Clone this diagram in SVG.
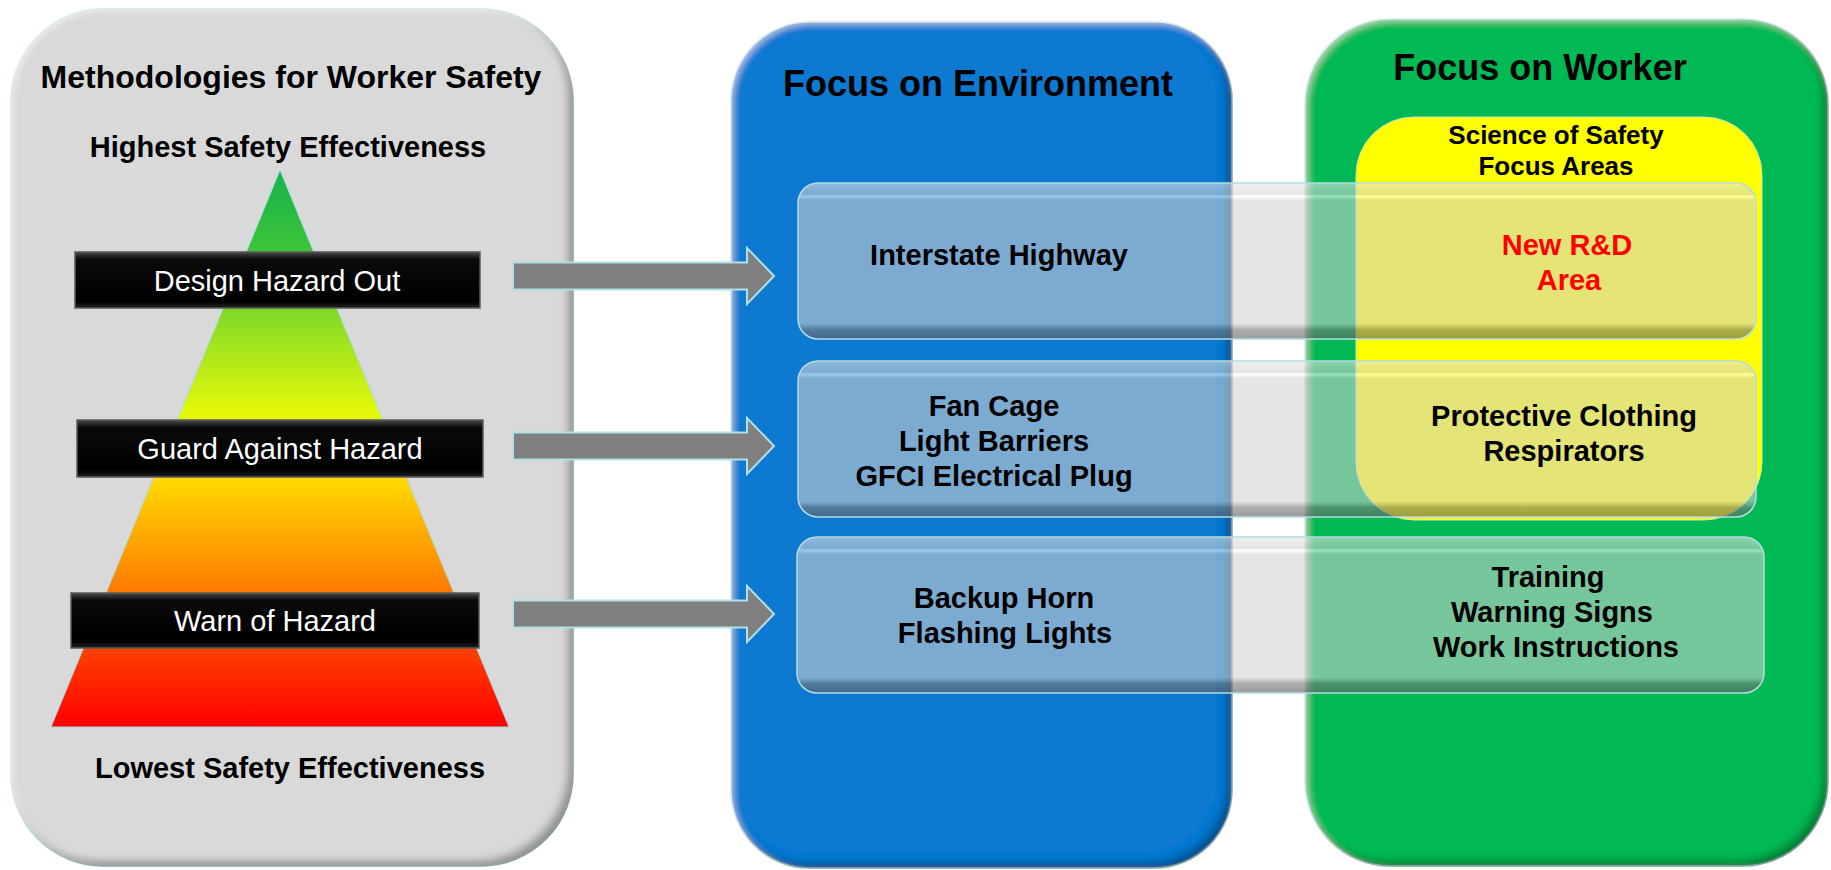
<svg xmlns="http://www.w3.org/2000/svg" width="1831" height="870" viewBox="0 0 1831 870">
<style>
  text { font-family: "Liberation Sans", Arial, sans-serif; }
  .b { font-weight: bold; fill: #000; }
  .c { text-anchor: middle; }
  .t29 { font-size: 29px; }
  .w { fill: #fff; font-size: 29px; text-anchor: middle; }
  .red { fill: #ff0000; }
  .panel { stroke: #bfe2e6; stroke-width: 1.5; filter: url(#bev); }
  .bar { fill: url(#barGrad); stroke: #b4dce4; stroke-width: 1.5; }
  .blk { fill: url(#blkGrad); stroke: #5a5a5a; stroke-width: 1.5; }
  .arrow { fill: #7f7f7f; stroke: #b2e0e6; stroke-width: 2; }
</style>
<defs>
  <filter id="bev" x="-5%" y="-5%" width="110%" height="110%">
    <feGaussianBlur in="SourceAlpha" stdDeviation="4" result="blur"/>
    <feOffset in="blur" dx="-6" dy="-6" result="off"/>
    <feComposite in="SourceAlpha" in2="off" operator="out" result="edge"/>
    <feFlood flood-color="#000" flood-opacity="0.6"/>
    <feComposite in2="edge" operator="in" result="shade"/>
    <feGaussianBlur in="SourceAlpha" stdDeviation="3" result="blur2"/>
    <feOffset in="blur2" dx="3" dy="3" result="off2"/>
    <feComposite in="SourceAlpha" in2="off2" operator="out" result="edge2"/>
    <feFlood flood-color="#ffffff" flood-opacity="0.45"/>
    <feComposite in2="edge2" operator="in" result="hl"/>
    <feMerge><feMergeNode in="SourceGraphic"/><feMergeNode in="shade"/><feMergeNode in="hl"/></feMerge>
  </filter>
  <linearGradient id="triGrad" x1="0" y1="0" x2="0" y2="1">
    <stop offset="0" stop-color="#16b04c"/>
    <stop offset="0.14" stop-color="#3cc43a"/>
    <stop offset="0.26" stop-color="#84da26"/>
    <stop offset="0.43" stop-color="#e2f80a"/>
    <stop offset="0.55" stop-color="#ffdc00"/>
    <stop offset="0.745" stop-color="#ff8000"/>
    <stop offset="0.86" stop-color="#ff4000"/>
    <stop offset="1" stop-color="#ff0000"/>
  </linearGradient>
  <linearGradient id="blkGrad" x1="0" y1="0" x2="0" y2="1">
    <stop offset="0" stop-color="#4a4a4a"/>
    <stop offset="0.13" stop-color="#0a0a0a"/>
    <stop offset="0.88" stop-color="#000"/>
    <stop offset="1" stop-color="#222"/>
  </linearGradient>
  <linearGradient id="barGrad" x1="0" y1="0" x2="0" y2="1">
    <stop offset="0" stop-color="#e6e6e6" stop-opacity="0.6"/>
    <stop offset="0.07" stop-color="#d0d0d0" stop-opacity="0.57"/>
    <stop offset="0.085" stop-color="#ffffff" stop-opacity="0.6"/>
    <stop offset="0.11" stop-color="#d0d0d0" stop-opacity="0.57"/>
    <stop offset="0.9" stop-color="#d0d0d0" stop-opacity="0.57"/>
    <stop offset="0.94" stop-color="#7a7a7a" stop-opacity="0.62"/>
    <stop offset="1" stop-color="#606060" stop-opacity="0.62"/>
  </linearGradient>
</defs>

<rect width="1831" height="870" fill="#ffffff"/>

<g id="panel-methodologies">
  <rect class="panel" x="11" y="9" width="562" height="857" rx="92" fill="#d9d9d9"/>
  <text class="b c" x="291" y="88" font-size="32">Methodologies for Worker Safety</text>
  <text class="b c t29" x="288" y="157">Highest Safety Effectiveness</text>
  <path id="pyramid" d="M280,170 L509,727 L51,727 Z" fill="url(#triGrad)" stroke="#a8dce2" stroke-width="1"/>
  <text class="b c t29" x="290" y="778">Lowest Safety Effectiveness</text>
</g>

<g id="box-design">
  <rect class="blk" x="75" y="252" width="405" height="56"/>
  <text class="w" x="277" y="291">Design Hazard Out</text>
</g>
<g id="box-guard">
  <rect class="blk" x="77" y="420" width="406" height="57"/>
  <text class="w" x="280" y="459">Guard Against Hazard</text>
</g>
<g id="box-warn">
  <rect class="blk" x="71" y="593" width="408" height="55"/>
  <text class="w" x="275" y="631">Warn of Hazard</text>
</g>

<g id="panel-environment">
  <rect class="panel" x="731" y="22" width="501" height="846" rx="78" fill="#0779d1"/>
  <text class="b c" x="978" y="96" font-size="36">Focus on Environment</text>
</g>

<g id="panel-worker">
  <rect class="panel" x="1305" y="19" width="523" height="847" rx="85" fill="#06b955"/>
  <text class="b c" x="1540" y="80" font-size="36">Focus on Worker</text>
</g>

<g id="panel-science">
  <rect x="1356" y="117" width="406" height="403" rx="58" fill="#ffff00" stroke="#c8e6c8" stroke-width="1"/>
  <text class="b c" x="1556" y="144" font-size="26">Science of Safety</text>
  <text class="b c" x="1556" y="175" font-size="26">Focus Areas</text>
</g>

<g id="row-1">
  <rect class="bar" x="798" y="183" width="958" height="156" rx="20"/>
  <text class="b c t29" x="999" y="265">Interstate Highway</text>
  <text class="b c t29 red" x="1567" y="255">New R&amp;D</text>
  <text class="b c t29 red" x="1569" y="290">Area</text>
</g>

<g id="row-2">
  <rect class="bar" x="798" y="361" width="958" height="156" rx="20"/>
  <text class="b c t29" x="994" y="416">Fan Cage</text>
  <text class="b c t29" x="994" y="451">Light Barriers</text>
  <text class="b c t29" x="994" y="486">GFCI Electrical Plug</text>
  <text class="b c t29" x="1564" y="426">Protective Clothing</text>
  <text class="b c t29" x="1564" y="461">Respirators</text>
</g>

<g id="row-3">
  <rect class="bar" x="797" y="537" width="967" height="156" rx="20"/>
  <text class="b c t29" x="1004" y="608">Backup Horn</text>
  <text class="b c t29" x="1005" y="643">Flashing Lights</text>
  <text class="b c t29" x="1548" y="587">Training</text>
  <text class="b c t29" x="1552" y="622">Warning Signs</text>
  <text class="b c t29" x="1556" y="657">Work Instructions</text>
</g>

<g id="connectors">
  <path class="arrow" d="M513,262.5 H747 V248 L774,276 L747,304 V289.5 H513 Z"/>
  <path class="arrow" d="M513,432.5 H747 V418 L774,446 L747,474 V459.5 H513 Z"/>
  <path class="arrow" d="M513,600.5 H747 V586 L774,614 L747,642 V627.5 H513 Z"/>
</g>
</svg>
